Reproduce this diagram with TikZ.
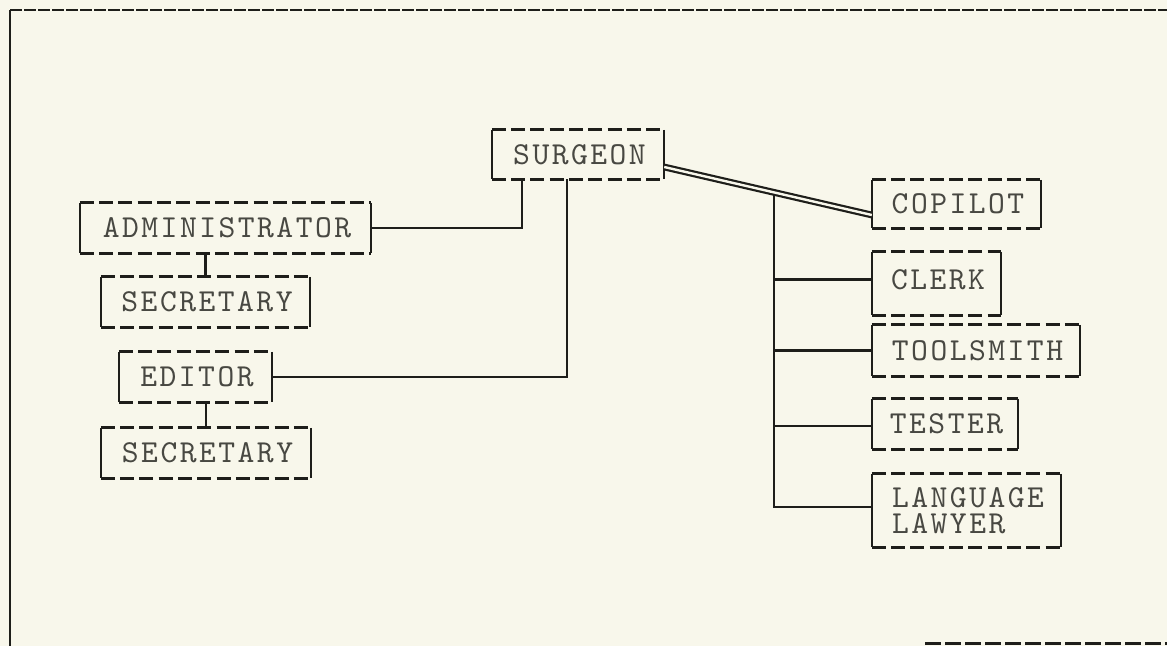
\documentclass[tikz,border=0pt]{standalone}
\usepackage{fontspec}
\newfontfamily\twfont{lmmono10-regular}[Extension=.otf,LetterSpace=7.8]
\usetikzlibrary{calc}
\definecolor{paper}{RGB}{248,247,235}
\definecolor{ink}{RGB}{30,30,26}
\definecolor{typeink}{RGB}{72,72,66}
\tikzset{
  box/.style={rectangle, draw=none, inner sep=0pt},
  typetext/.style={inner sep=0pt, text=typeink, font=\twfont\fontsize{32}{26}\selectfont},
  lbl/.style={typetext, text height=19.6pt, text depth=0pt, anchor=center},
  dashedge/.style={draw=ink, line width=3pt, dash pattern=on 14pt off 5.3pt},
  sideedge/.style={draw=ink, line width=2.2pt},
  link/.style={draw=ink, line width=2.6pt},
  dbl/.style={draw=ink, double=paper, double distance=2.4pt, line width=2.2pt},
  frameline/.style={draw=ink, line width=2.4pt},
}
\newcommand\drawtypebox[1]{%
  \draw[dashedge] (#1.north west) -- (#1.north east);
  \draw[dashedge] (#1.south west) -- (#1.south east);
  \draw[sideedge] (#1.north west) -- (#1.south west);
  \draw[sideedge] (#1.north east) -- (#1.south east);}
\begin{document}
\begin{tikzpicture}[x=1pt,y=-1pt]
\fill[paper] (0,0) rectangle (1167,646);
\useasboundingbox (0,0) rectangle (1167,646);
% frame
\coordinate (ftl) at (10,10);
\coordinate (ftr) at (1167,10);
\coordinate (fbl) at (10,646);
\coordinate (fbr1) at (925,643);
\coordinate (fbr2) at (1167,643);
\draw[frameline, dash pattern=on 12pt off 2pt] (ftl) -- (ftr);
\draw[frameline] (ftl) -- (fbl);
\draw[frameline, line width=3pt, dash pattern=on 16pt off 4pt] (fbr1) -- (fbr2);
% boxes
\node[box, minimum width=172pt, minimum height=49pt] (surgeon) at (578,154.5) {};
\node[box, minimum width=291pt, minimum height=50pt] (admin) at (225.5,228) {};
\node[box, minimum width=209pt, minimum height=50pt] (sec1) at (205.5,302) {};
\node[box, minimum width=153pt, minimum height=50pt] (editor) at (195.5,377) {};
\node[box, minimum width=210pt, minimum height=50pt] (sec2) at (206,453) {};
\node[box, minimum width=169pt, minimum height=48pt] (copilot) at (956.5,204) {};
\node[box, minimum width=129pt, minimum height=63pt] (clerk) at (936.5,283.5) {};
\node[box, minimum width=208pt, minimum height=51pt] (tool) at (976,350.5) {};
\node[box, minimum width=146pt, minimum height=50pt] (tester) at (945,424) {};
\node[box, minimum width=189pt, minimum height=73pt] (ll) at (966.5,510.5) {};
\foreach \b in {surgeon,admin,sec1,editor,sec2,copilot,clerk,tool,tester,ll}{\drawtypebox{\b}}
% labels
\node[lbl] (surgeonL) at ([xshift=1.5pt]surgeon.center) {SURGEON};
\node[lbl] (adminL) at ([xshift=1.5pt]admin.center) {ADMINISTRATOR};
\node[lbl] (sec1L) at ([xshift=1.5pt]sec1.center) {SECRETARY};
\node[lbl] (editorL) at ([xshift=1.5pt]editor.center) {EDITOR};
\node[lbl] (sec2L) at ([xshift=1.5pt]sec2.center) {SECRETARY};
\node[lbl] (copilotL) at ([xshift=1.5pt]copilot.center) {COPILOT};
\node[lbl] (clerkL) at (938,280) {CLERK};
\node[lbl] (toolL) at ([xshift=1.5pt]tool.center) {TOOLSMITH};
\node[lbl] (testerL) at ([xshift=1.5pt]tester.center) {TESTER};
\node[typetext, align=left, anchor=center] (llL) at ([xshift=1.5pt]ll.center) {LANGUAGE\\LAWYER};
% connectors
\draw[link] (admin.east) -| ([xshift=30pt]surgeon.south west);
\draw[link] (editor.east) -| ([xshift=75pt]surgeon.south west);
\draw[link] (sec1.north) -- (sec1.north |- admin.south);
\draw[link] (sec2.north) -- (sec2.north |- editor.south);
\coordinate (s1) at ([yshift=-12.5pt]surgeon.east);
\coordinate (c1) at ([yshift=-11pt]copilot.west);
\coordinate (j) at ($(s1)!0.529!(c1)$);
\draw[link] (j) |- ([yshift=3.5pt]ll.west);
\draw[link] (j |- clerk.west) ++(0,-4) -- ([yshift=4pt]clerk.west);
\draw[link] (j |- tool.west) -- (tool.west);
\draw[link] (j |- tester.west) ++(0,2) -- ([yshift=-2pt]tester.west);
\draw[dbl] (s1) -- (c1);
\end{tikzpicture}
\end{document}
